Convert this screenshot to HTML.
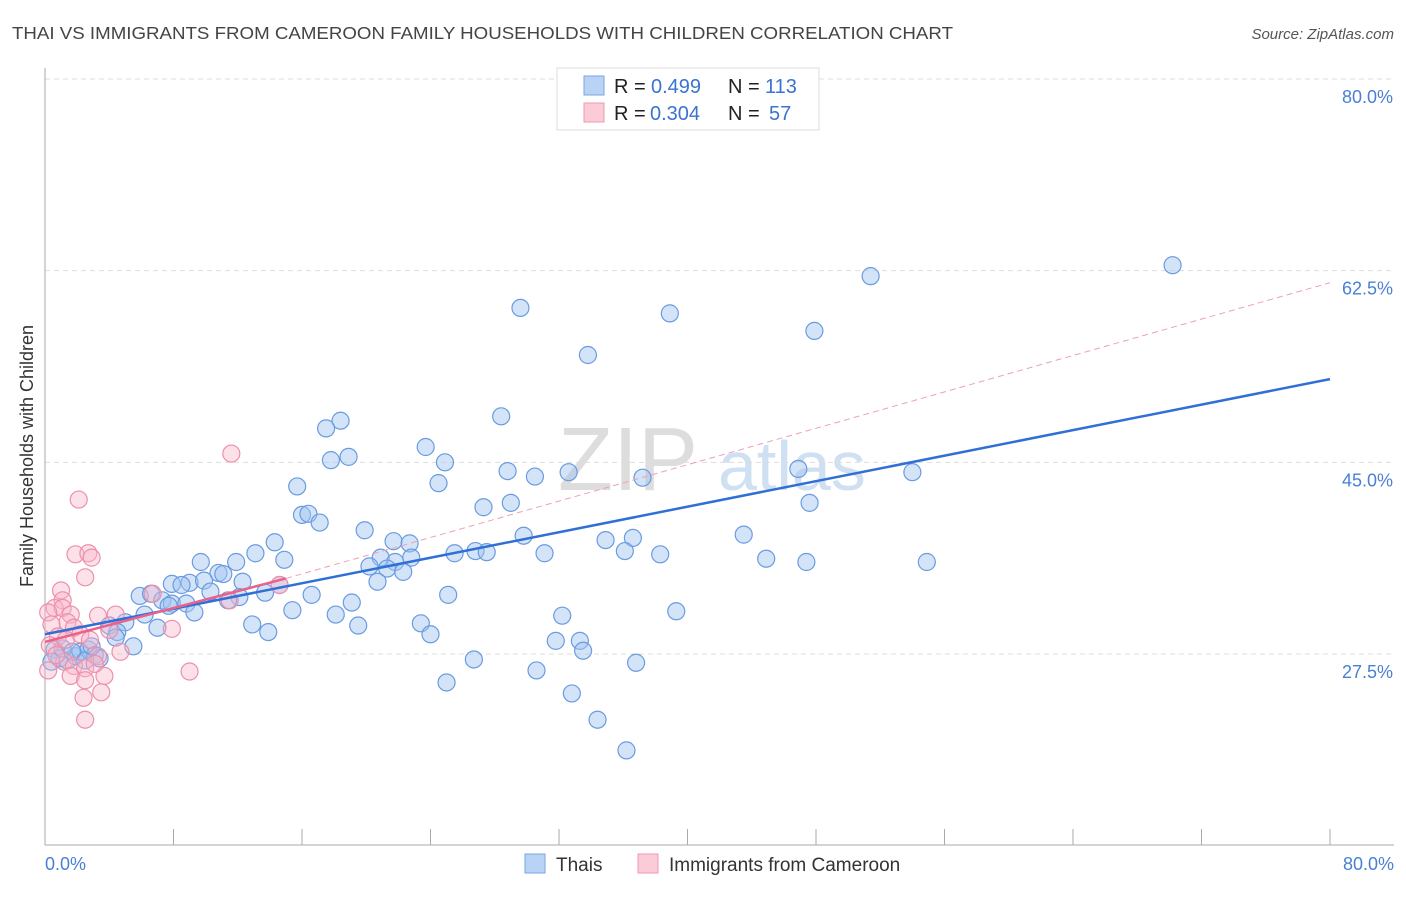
<!DOCTYPE html>
<html><head><meta charset="utf-8"><style>
body{margin:0;background:#fff;font-family:"Liberation Sans",sans-serif;}
svg text{font-family:"Liberation Sans",sans-serif;}
</style></head><body>
<svg width="1406" height="892" viewBox="0 0 1406 892">
<text x="12" y="39" font-size="17.5" fill="#444" textLength="941" lengthAdjust="spacingAndGlyphs">THAI VS IMMIGRANTS FROM CAMEROON FAMILY HOUSEHOLDS WITH CHILDREN CORRELATION CHART</text>
<text x="1394" y="39" font-size="15" fill="#555" font-style="italic" text-anchor="end">Source: ZipAtlas.com</text>
<text x="558" y="490" font-size="90" fill="#ddd" font-family="Liberation Serif">ZIP</text>
<text x="718" y="490" font-size="70" fill="#cfe0f3">atlas</text>
<g id="grid"></g>
<g id="axes"></g>
<g id="pts"></g>
<g id="lines"></g>
<text x="33" y="456" font-size="18" fill="#333" text-anchor="middle" transform="rotate(-90 33 456)">Family Households with Children</text>
<text x="45" y="870" font-size="18" fill="#4a7fd4">0.0%</text>
<text x="1394" y="870" font-size="18" fill="#4a7fd4" text-anchor="end">80.0%</text>
<g>
<rect x="557" y="68" width="262" height="62" fill="#fff" stroke="#ddd"/>
<rect x="584" y="76" width="20" height="19" fill="#b9d3f5" stroke="#7aa5e0"/>
<rect x="584" y="103" width="20" height="19" fill="#fccbd8" stroke="#ef9ab2"/>
<text x="614" y="93" font-size="20" fill="#222">R = <tspan x="651" fill="#3a73d0">0.499</tspan><tspan x="728">N = </tspan><tspan x="765" fill="#3a73d0">113</tspan></text>
<text x="614" y="120" font-size="20" fill="#222">R = <tspan x="650" fill="#3a73d0">0.304</tspan><tspan x="728">N = </tspan><tspan x="769" fill="#3a73d0">57</tspan></text>
</g>
<g>
<rect x="525" y="854" width="20" height="19" fill="#b9d3f5" stroke="#7aa5e0"/>
<text x="556" y="871" font-size="19" fill="#333">Thais</text>
<rect x="638" y="854" width="20" height="19" fill="#fccbd8" stroke="#ef9ab2"/>
<text x="669" y="871" font-size="19" fill="#333">Immigrants from Cameroon</text>
</g>
</svg>
<script>
const yTicks=[27.5,45.0,62.5,80.0];
const xTicks=[0,8,16,24,32,40,48,56,64,72,80];
const blueX=[70.2,51.4,29.6,38.9,47.9,33.8,28.4,18.4,17.5,23.7,18.9,17.8,24.9,46.9,54.0,28.8,32.6,30.5,37.2,24.5,15.7,47.6,29.0,27.3,16.0,16.4,17.1,19.9,43.5,29.8,34.9,36.6,14.3,21.7,22.7,36.1,13.1,26.8,25.5,27.5,31.1,38.3,22.8,20.9,9.7,11.9,14.9,44.9,47.4,54.9,20.2,21.8,21.3,22.3,10.8,11.1,12.3,20.7,9.0,7.9,8.5,9.9,14.6,10.3,13.7,12.1,5.9,6.6,25.1,16.6,7.3,7.9,8.8,7.7,19.1,11.4,15.4,9.3,18.1,6.2,32.2,39.3,5.0,12.9,19.5,23.4,7.0,4.0,13.9,24.0,4.5,4.4,31.8,33.3,5.5,33.5,26.7,36.8,30.6,25.0,32.8,34.4,36.2,0.6,0.9,1.4,1.9,2.2,2.7,3.1,3.4,0.4,1.1,1.7,2.5,2.9];
const blueY=[63.0,62.0,59.1,58.6,57.0,54.8,49.2,48.8,48.1,46.4,45.5,45.2,45.0,44.4,44.1,44.2,44.1,43.7,43.6,43.1,42.8,41.3,41.3,40.9,40.2,40.3,39.5,38.8,38.4,38.3,37.9,38.1,37.7,37.8,37.6,36.9,36.7,36.9,36.7,36.8,36.7,36.6,36.3,36.3,35.9,35.9,36.1,36.2,35.9,35.9,35.5,35.9,35.3,35.0,34.9,34.8,34.1,34.1,34.0,33.9,33.8,34.2,33.8,33.2,33.1,32.7,32.8,33.0,32.9,32.9,32.4,32.1,32.1,31.9,32.2,32.4,31.5,31.3,31.1,31.1,31.0,31.4,30.4,30.2,30.1,30.3,29.9,30.1,29.5,29.3,29.5,29.0,28.7,28.7,28.2,27.8,27.0,26.7,26.0,24.9,23.9,21.5,18.7,27.9,27.1,26.9,27.3,27.7,27.9,27.4,27.1,26.8,28.0,27.7,26.9,28.2];
const pinkX=[11.6,2.1,1.9,2.7,2.9,2.5,1.0,6.7,1.1,0.6,1.1,0.2,1.6,3.3,4.4,11.5,14.6,1.4,1.8,0.4,7.9,4.0,2.2,0.8,1.3,2.8,0.3,4.7,3.3,1.2,1.8,2.5,0.2,1.6,3.7,9.0,2.5,3.5,2.4,2.5,0.7,3.1];
const pinkY=[45.8,41.6,36.6,36.7,36.3,34.5,33.3,33.0,32.4,31.7,31.7,31.3,31.1,31.0,31.1,32.4,33.8,30.4,29.9,30.2,29.8,29.7,29.3,29.1,28.8,28.8,28.3,27.7,27.3,26.8,26.4,26.2,26.0,25.5,25.5,25.9,25.1,24.0,23.5,21.5,27.4,26.6];
const blueLine=[[0,29.3],[80,52.6]];
const pinkLine=[[0,28.6],[15,34.4]];
const pinkDash=[[15,34.4],[80,61.4]];
const NS='http://www.w3.org/2000/svg';
const X0=45,X1=1330,Y80=79,Y275=654;
const sx=v=>X0+(X1-X0)*v/80;
const sy=v=>Y275-(v-27.5)*(Y275-Y80)/52.5;
function mk(t,a,p){const e=document.createElementNS(NS,t);for(const k in a)e.setAttribute(k,a[k]);p.appendChild(e);return e;}
const grid=document.getElementById('grid'),axes=document.getElementById('axes'),pts=document.getElementById('pts'),lines=document.getElementById('lines');
yTicks.forEach(v=>{
 const l=mk('line',{x1:X0,x2:1394,y1:sy(v),y2:sy(v),stroke:'#ddd','stroke-dasharray':'5,4'},grid);
 
 
 const t=mk('text',{x:1393,y:sy(v)+24,'font-size':18,fill:'#4a7fd4','text-anchor':'end'},grid);
 t.textContent=v.toFixed(1)+'%';
 
 
});
const ya=mk('line',{x1:X0,x2:X0,y1:68,y2:845,stroke:'#aaa'},axes);


const xa=mk('line',{x1:X0,x2:1394,y1:845,y2:845,stroke:'#aaa'},axes);


xTicks.forEach(v=>{
 const l=mk('line',{x1:sx(v),x2:sx(v),y1:829,y2:845,stroke:'#aaa'},axes);
 
 
});
blueX.forEach((v,i)=>{
 const c=mk('circle',{cx:sx(v),cy:sy(blueY[i]),r:8.5,fill:'rgba(160,195,240,0.45)',stroke:'#6a9be0','stroke-width':1.2},pts);
 
 
});
pinkX.forEach((v,i)=>{
 const c=mk('circle',{cx:sx(v),cy:sy(pinkY[i]),r:8.5,fill:'rgba(250,180,200,0.4)',stroke:'#ec90ac','stroke-width':1.2},pts);
 
 
});
const bl=mk('line',{x1:sx(blueLine[0][0]),y1:sy(blueLine[0][1]),x2:sx(blueLine[1][0]),y2:sy(blueLine[1][1]),stroke:'#2f6fd6','stroke-width':2.5},lines);


const pl=mk('line',{x1:sx(pinkLine[0][0]),y1:sy(pinkLine[0][1]),x2:sx(pinkLine[1][0]),y2:sy(pinkLine[1][1]),stroke:'#e8628a','stroke-width':2.5},lines);


const pd=mk('line',{x1:sx(pinkDash[0][0]),y1:sy(pinkDash[0][1]),x2:sx(pinkDash[1][0]),y2:sy(pinkDash[1][1]),stroke:'#eea0b6','stroke-width':1,'stroke-dasharray':'6,4'},lines);


</script>
</body></html>
